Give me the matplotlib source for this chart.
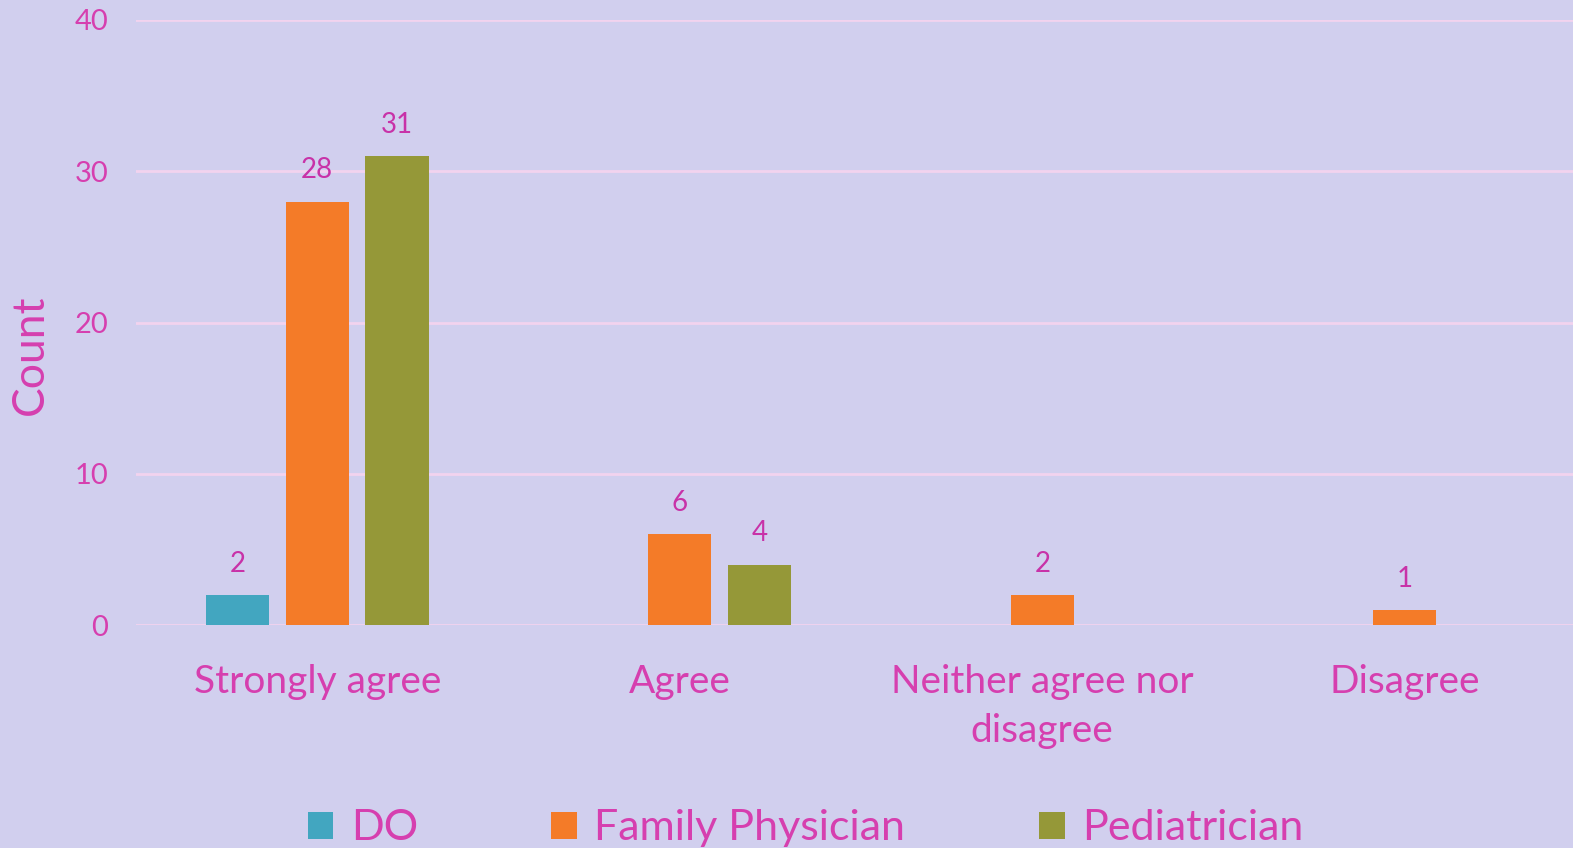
import matplotlib
matplotlib.use("Agg")
import matplotlib.pyplot as plt
import numpy as np

categories = ["Strongly agree", "Agree", "Neither agree nor\ndisagree", "Disagree"]
series_names = ["DO", "Family Physician", "Pediatrician"]
do_vals = [2, 0, 0, 0]
fp_vals = [28, 6, 2, 1]
ped_vals = [31, 4, 0, 0]
colors = ["#42A6C0", "#F47B28", "#959838"]
yticks = [0, 10, 20, 30, 40]

plt.rcParams['font.family'] = ['Lato', 'DejaVu Sans']
bg = "#D1CFEE"
txt = "#D63FAF"
lbl = "#C832A8"

fig = plt.figure(figsize=(15.73, 8.48), dpi=100, facecolor=bg)
ax = fig.add_axes([136/1573, 1-625/848, 1450/1573, 605/848], facecolor=bg)

x = np.arange(len(categories))
offsets = [-0.22, 0.0, 0.22]
width = 0.174
for vals, off, col, name in zip([do_vals, fp_vals, ped_vals], offsets, colors, series_names):
    xs = [xi + off for xi, v in zip(x, vals) if v > 0]
    vs = [v for v in vals if v > 0]
    bars = ax.bar(xs, vs, width=width, color=col, label=name, zorder=3)
    for b, v in zip(bars, vs):
        ax.text(b.get_x() + b.get_width()/2, v + 1.2, str(v), ha='center', va='bottom',
                fontsize=20, color=lbl)

ax.set_xlim(-0.5, 3.5)
ax.set_ylim(0, 40)
ax.set_yticks(yticks)
ax.set_xticks(x)
ax.set_xticklabels(categories, fontsize=28, color=txt, linespacing=1.45)
ax.tick_params(axis='x', length=0, pad=28)
ax.tick_params(axis='y', length=0, pad=20, labelsize=21, labelcolor=txt)
ax.grid(axis='y', color="#F2D3EE", linewidth=2, zorder=0)
for s in ax.spines.values():
    s.set_visible(False)
ax.set_ylabel("Count", fontsize=32, color=txt)
ax.yaxis.set_label_coords(-0.059, 0.446)

handles, labels = ax.get_legend_handles_labels()
leg = fig.legend(handles, labels, loc='lower center', bbox_to_anchor=(0.512, -0.045), ncol=3,
                 frameon=False, fontsize=31, handlelength=0.6, handleheight=0.6,
                 handletextpad=0.4, columnspacing=3.1)
for t in leg.get_texts():
    t.set_color(txt)

fig.savefig("out.png", dpi=100, facecolor=bg)
